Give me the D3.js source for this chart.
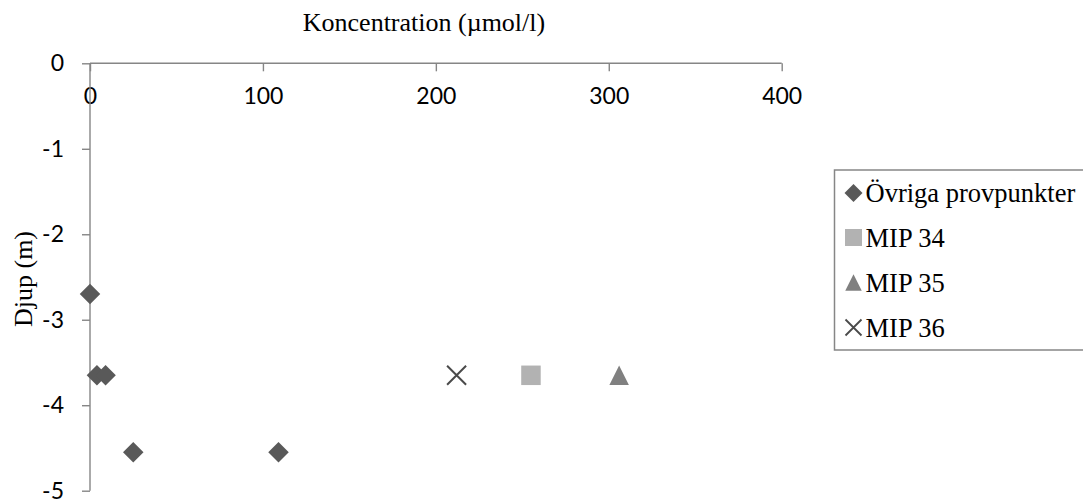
<!DOCTYPE html>
<html>
<head>
<meta charset="utf-8">
<script src="https://cdn.jsdelivr.net/npm/d3@7"></script>
<style>
  html, body { margin: 0; padding: 0; background: #ffffff; }
  svg { display: block; }
</style>
</head>
<body>
<svg id="chart" width="1083" height="500"></svg>
<script>
// Concentration (µmol/l) against depth (m) per sampling point
const ovrigaX = [0, 4, 9, 25, 109];
const ovrigaY = [-2.7, -3.65, -3.65, -4.55, -4.55];
const mip34X = [255];
const mip34Y = [-3.65];
const mip35X = [306];
const mip35Y = [-3.65];
const mip36X = [212];
const mip36Y = [-3.65];

const xTicks = [0, 100, 200, 300, 400];
const yTicks = [0, -1, -2, -3, -4, -5];

const seriesNames = ["Övriga provpunkter", "MIP 34", "MIP 35", "MIP 36"];
const xTitle = "Koncentration (µmol/l)";
const yTitle = "Djup (m)";

const svg = d3.select("#chart");

const x = d3.scaleLinear().domain([0, 400]).range([90, 781.7]);
const y = d3.scaleLinear().domain([0, -5]).range([63.3, 490.7]);

const axisColor = "#868686";
const tickFont = "Lato, 'Open Sans', sans-serif";
const serif = "'Liberation Serif', 'Times New Roman', serif";

// Custom marker shapes, sized by width w
const shapes = {
  diamond: w => { const p = d3.path(); const h = w / 2; p.moveTo(0, -h); p.lineTo(h, 0); p.lineTo(0, h); p.lineTo(-h, 0); p.closePath(); return p.toString(); },
  square: w => { const p = d3.path(); const h = w / 2; p.rect(-h, -h, w, w); return p.toString(); },
  triangle: w => { const p = d3.path(); const h = w / 2; p.moveTo(0, -h); p.lineTo(h, h); p.lineTo(-h, h); p.closePath(); return p.toString(); },
  cross: w => { const p = d3.path(); const h = w / 2; p.moveTo(-h, -h); p.lineTo(h, h); p.moveTo(h, -h); p.lineTo(-h, h); return p.toString(); }
};

const series = [
  { name: seriesNames[0], xs: ovrigaX, ys: ovrigaY, shape: "diamond", fill: "#595959", size: 20.5, legendSize: 18 },
  { name: seriesNames[1], xs: mip34X, ys: mip34Y, shape: "square", fill: "#b2b2b2", size: 19.5, legendSize: 17 },
  { name: seriesNames[2], xs: mip35X, ys: mip35Y, shape: "triangle", fill: "#808080", size: 19.5, legendSize: 16.5 },
  { name: seriesNames[3], xs: mip36X, ys: mip36Y, shape: "cross", stroke: "#4a4a4a", size: 19, legendSize: 16 }
];

// X axis along the top (value 0 of y), ticks pointing down
const xAxis = svg.append("g")
  .attr("transform", `translate(0,${y(0)})`)
  .call(d3.axisBottom(x).tickValues(xTicks).tickSize(8).tickPadding(16).tickFormat(d3.format("d")));
xAxis.select(".domain").attr("stroke", axisColor).attr("stroke-width", 1.4).attr("d", `M${x(0)},0H${x(400)}`);
xAxis.selectAll(".tick line").attr("stroke", axisColor).attr("stroke-width", 1.4);
xAxis.selectAll(".tick text").attr("font-family", tickFont).attr("font-size", 23).attr("fill", "#000").attr("dy", "0.71em");

// Y axis at x = 0, ticks pointing left
const yAxis = svg.append("g")
  .attr("transform", `translate(${x(0)},0)`)
  .call(d3.axisLeft(y).tickValues(yTicks).tickSize(8).tickPadding(18).tickFormat(d3.format("d")));
yAxis.select(".domain").attr("stroke", axisColor).attr("stroke-width", 1.4).attr("d", `M0,${y(0)}V${y(-5)}`);
yAxis.selectAll(".tick line").attr("stroke", axisColor).attr("stroke-width", 1.4);
yAxis.selectAll(".tick text").attr("font-family", tickFont).attr("font-size", 23).attr("fill", "#000")
  .text(d => d < 0 ? "-" + Math.abs(d) : d);

// Axis titles
svg.append("text")
  .attr("x", 424).attr("y", 30.5)
  .attr("text-anchor", "middle")
  .attr("font-family", serif).attr("font-size", 26).attr("fill", "#000")
  .text(xTitle);

svg.append("text")
  .attr("transform", `translate(32,279) rotate(-90)`)
  .attr("text-anchor", "middle")
  .attr("font-family", serif).attr("font-size", 26).attr("fill", "#000")
  .text(yTitle);

// Markers
series.forEach(s => {
  const pts = s.xs.map((v, i) => [v, s.ys[i]]);
  svg.append("g").selectAll("path")
    .data(pts).join("path")
    .attr("transform", d => `translate(${x(d[0])},${y(d[1])})`)
    .attr("d", shapes[s.shape](s.size))
    .attr("fill", s.fill || "none")
    .attr("stroke", s.stroke || "none")
    .attr("stroke-width", s.stroke ? 2 : 0);
});

// Legend
const legend = svg.append("g");
legend.append("rect")
  .attr("x", 834.5).attr("y", 170).attr("width", 260).attr("height", 180)
  .attr("fill", "#fff").attr("stroke", axisColor).attr("stroke-width", 1.5);

const rowY = [193, 237.5, 282.5, 327.5];
series.forEach((s, i) => {
  legend.append("path")
    .attr("transform", `translate(853.5,${rowY[i]})`)
    .attr("d", shapes[s.shape](s.legendSize))
    .attr("fill", s.fill || "none")
    .attr("stroke", s.stroke || "none")
    .attr("stroke-width", s.stroke ? 1.8 : 0);
  legend.append("text")
    .attr("x", 865.5).attr("y", rowY[i] + 9)
    .attr("font-family", serif).attr("font-size", 26.5).attr("fill", "#000")
    .text(s.name);
});
</script>
</body>
</html>
